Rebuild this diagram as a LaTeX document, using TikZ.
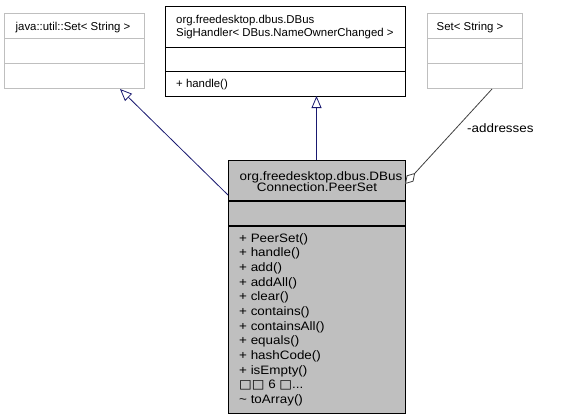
\documentclass[tikz,border=0pt]{standalone}
\usepackage{fontspec}
\setmainfont{Liberation Sans}
\newfontfamily\widefont[FakeStretch=1.1]{Liberation Sans}
\newfontfamily\symfont[FakeStretch=1.1]{DejaVu Sans}
\usetikzlibrary{arrows.meta}
\definecolor{navy}{HTML}{191970}
\definecolor{boxgray}{HTML}{BFBFBF}
\definecolor{agggray}{HTML}{404040}
\begin{document}
\begin{tikzpicture}[x=1bp,y=-1bp, font=\fontsize{11.4bp}{13.33bp}\selectfont,
 umlbox/.style={draw, line width=1bp, anchor=north west, inner sep=0, outer sep=0},
 divider/.style={line width=1bp},
 lbl/.style={inner sep=0, anchor=base west},
 ctr/.style={inner sep=0, anchor=base},
 big/.style={font=\widefont\fontsize{12.2bp}{14bp}\selectfont},
 inh/.style={draw=navy, line width=0.8bp, -{Triangle[open, length=12bp, width=10bp, fill=white]}},
 agg/.style={draw=agggray, line width=0.8bp, -{Diamond[open, length=15bp, width=9bp, fill=white]}}]
\useasboundingbox (0,0) rectangle (581,419);

% java::util::Set< String >
\node[umlbox, draw=boxgray, minimum width=140bp, minimum height=75bp] (jset) at (4,13) {};
\draw[divider, boxgray] (4,38) -- (144,38) (4,63) -- (144,63);
\node[ctr] (jsett) at (73,30) {java::util::Set< String >};

% DBusSigHandler
\node[umlbox, minimum width=240bp, minimum height=90bp] (sig) at (165,6) {};
\draw[divider] (165,47) -- (405,47) (165,71) -- (405,71);
\node[lbl] (sigt1) at (176,23) {org.freedesktop.dbus.DBus};
\node[lbl] (sigt2) at (176,36) {SigHandler< DBus.NameOwnerChanged >};
\node[lbl] (sigm1) at (176,87) {+ handle()};

% Set< String >
\node[umlbox, draw=boxgray, minimum width=95bp, minimum height=75bp] (sset) at (427,13) {};
\draw[divider, boxgray] (427,38) -- (522,38) (427,63) -- (522,63);
\node[ctr] (ssett) at (470,30) {Set< String >};

% PeerSet
\node[umlbox, fill=boxgray, minimum width=177bp, minimum height=253bp] (peer) at (228,160) {};
\draw[divider, line width=1.5bp] (228,201) -- (405,201) (228,226) -- (405,226);
\node[ctr, big] (peert1) at (321,180) {org.freedesktop.dbus.DBus};
\node[ctr, big] (peert2) at (317,191.8) {Connection.PeerSet};
\foreach \t [count=\i] in {{+ PeerSet()},{+ handle()},{+ add()},{+ addAll()},{+ clear()},{+ contains()},{+ containsAll()},{+ equals()},{+ hashCode()},{+ isEmpty()}}
  \node[lbl, big] (m\i) at (239,{242.3+14.64*(\i-1)}) {\t};
\node[lbl, big] (m11) at (239,{242.3+14.64*10}) {{\symfont □□} 6 {\symfont □}...};
\node[lbl, big] (m12) at (239,{242.3+14.64*11}) {\textasciitilde{} toArray()};

% connectors
\coordinate (p1) at (228,195);
\coordinate (j1) at (120,89);
\draw[inh] (p1) -- (j1);
\draw[inh] (peer.north) -- (peer.north |- sig.south);
\coordinate (s1) at (492,89);
\coordinate (p2) at (405,184);
\draw[agg] (s1) -- (p2);
\node[lbl, font=\widefont\fontsize{12.2bp}{14bp}\selectfont] (addr) at (467,132) {-addresses};
\end{tikzpicture}
\end{document}
